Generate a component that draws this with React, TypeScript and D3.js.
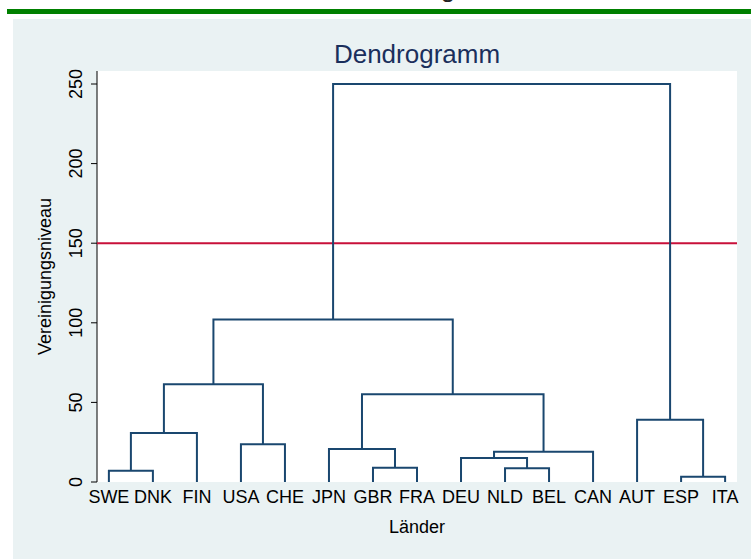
import React from "react";
import * as d3 from "d3";

// ---- data ----
const leaves = ["SWE", "DNK", "FIN", "USA", "CHE", "JPN", "GBR", "FRA", "DEU", "NLD", "BEL", "CAN", "AUT", "ESP", "ITA"];
// linkage style merges: ids 0..14 are leaves, 15+ are clusters in order
const mergeLeft = [0, 15, 3, 16, 6, 5, 9, 8, 22, 20, 18, 13, 12, 25];
const mergeRight = [1, 2, 4, 17, 7, 19, 10, 21, 11, 23, 24, 14, 26, 27];
const mergeHeight = [7.1, 30.8, 23.7, 61.4, 9.0, 20.7, 8.6, 15.1, 19.0, 55.1, 102, 3.3, 39.1, 250];
const yTicks = [0, 50, 100, 150, 200, 250];
const cutLevel = 150;
const titleText = "Dendrogramm";
const xTitle = "Länder";
const yTitle = "Vereinigungsniveau";

const W = 751;
const H = 559;
const plot = { left: 97, right: 737, top: 71, bottom: 482 };
const FONT = "'Liberation Sans', Arial, Helvetica, sans-serif";

export default function App() {
  const x = d3.scalePoint<string>().domain(leaves).range([plot.left, plot.right]).padding(0.27);
  const y = d3.scaleLinear().domain([0, 250]).range([plot.bottom, 84]);

  const nodeX: number[] = leaves.map((l) => x(l) as number);
  const nodeH: number[] = leaves.map(() => 0);
  const paths: string[] = [];
  mergeLeft.forEach((a, i) => {
    const b = mergeRight[i];
    const h = mergeHeight[i];
    const xa = nodeX[a], xb = nodeX[b];
    const p = d3.path();
    p.moveTo(xa, y(nodeH[a]));
    p.lineTo(xa, y(h));
    p.lineTo(xb, y(h));
    p.lineTo(xb, y(nodeH[b]));
    paths.push(p.toString());
    nodeX.push((xa + xb) / 2);
    nodeH.push(h);
  });

  return (
    <svg width={W} height={H} style={{ position: "absolute", left: 0, top: 0, display: "block" }} fontFamily={FONT}>
      <rect x={0} y={0} width={W} height={H} fill="#ffffff" />
      <text x={448} y={-3} fontSize={26} textAnchor="middle" fill="#222">g</text>
      <rect x={7} y={9} width={W - 7} height={5} fill="#008000" />
      <rect x={13} y={19} width={W - 13} height={H - 19} fill="#eaf2f3" />
      <rect x={plot.left} y={plot.top} width={plot.right - plot.left} height={plot.bottom - plot.top} fill="#ffffff" />

      <text x={(plot.left + plot.right) / 2} y={63} fontSize={26} textAnchor="middle" fill="#1a2f5c">{titleText}</text>

      {/* y axis */}
      <line x1={plot.left} x2={plot.left} y1={plot.top} y2={plot.bottom} stroke="#000" strokeWidth={1} />
      {yTicks.map((t) => (
        <g key={t}>
          <line x1={plot.left - 6} x2={plot.left} y1={y(t)} y2={y(t)} stroke="#000" strokeWidth={1} />
          <text transform={`translate(82,${y(t)}) rotate(-90)`} fontSize={18} textAnchor="middle" fill="#000">{t}</text>
        </g>
      ))}
      <text transform={`translate(51,${(plot.top + plot.bottom) / 2}) rotate(-90)`} fontSize={18} textAnchor="middle" fill="#000">{yTitle}</text>

      {/* cut line */}
      <line x1={plot.left} x2={plot.right} y1={y(cutLevel)} y2={y(cutLevel)} stroke="#c8103a" strokeWidth={2} />

      {/* dendrogram */}
      {paths.map((d, i) => (
        <path key={i} d={d} fill="none" stroke="#1a476f" strokeWidth={2} />
      ))}

      {/* x labels */}
      {leaves.map((l) => (
        <text key={l} x={x(l)} y={503} fontSize={18} textAnchor="middle" fill="#000">{l}</text>
      ))}
      <text x={(plot.left + plot.right) / 2} y={533} fontSize={18} textAnchor="middle" fill="#000">{xTitle}</text>
    </svg>
  );
}
